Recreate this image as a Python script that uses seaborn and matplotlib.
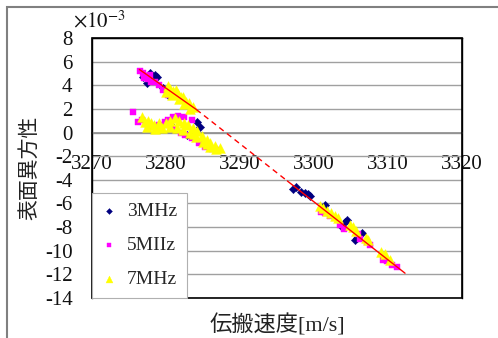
import matplotlib
matplotlib.use("Agg")
import matplotlib.pyplot as plt
import matplotlib.patches as mpatches
import seaborn as sns
import pandas as pd

sns.set_theme(style="white")
plt.rcParams['font.family'] = ['Liberation Serif', 'Noto Sans CJK JP']
plt.rcParams['mathtext.fontset'] = 'stix'
plt.rcParams['axes.unicode_minus'] = False

# values in units of 1e-3
x_3mhz = [3276.9, 3277.4, 3277.8, 3278.0, 3278.5, 3278.8, 3279.6, 3280.3,
          3279.2, 3280.5, 3282.8, 3284.2, 3284.6,
          3297.2, 3297.6, 3298.2, 3298.8, 3299.2, 3299.5, 3301.2, 3301.5,
          3304.5, 3304.2, 3303.8, 3305.8, 3305.5, 3306.5]
y_3mhz = [4.7, 4.2, 5.0, 4.6, 4.9, 4.7, 3.8, 3.2,
          0.5, 0.7, -0.2, 0.85, 0.5,
          -4.8, -4.6, -5.0, -5.1, -5.2, -5.4, -6.3, -6.1,
          -7.4, -7.6, -8.0, -8.9, -9.1, -8.5]

x_5mhz = [3276.5, 3276.9, 3277.2, 3277.6, 3278.0, 3278.5, 3279.0, 3279.6, 3280.3, 3277.8, 3277.0,
          3275.5, 3276.2, 3276.8, 3277.5, 3278.2, 3279.0, 3279.8, 3280.3, 3281.0, 3281.6,
          3282.5, 3283.5, 3282.0, 3282.6, 3283.5, 3284.5, 3285.3, 3286.2, 3287.0, 3281.0,
          3301.0, 3301.5, 3302.2, 3303.5, 3304.0, 3305.9, 3306.2, 3307.6, 3307.2, 3309.3,
          3309.8, 3310.6, 3311.2]
y_5mhz = [5.2, 5.0, 4.8, 4.5, 4.3, 4.3, 4.0, 3.6, 3.2, 4.9, 4.6,
          1.7, 0.9, 1.1, 0.7, 0.5, 0.6, 0.9, 1.1, 1.3, 1.4,
          1.3, 1.1, 0.0, -0.2, -0.5, -0.9, -1.2, -1.4, -1.5, 0.3,
          -6.7, -6.8, -7.1, -7.8, -8.2, -8.6, -9.0, -9.5, -9.3, -10.8,
          -10.9, -11.2, -11.4]

x_7mhz = [3280.3, 3280.6, 3281.0, 3281.3, 3281.6, 3282.0, 3282.3, 3282.7, 3283.1, 3283.6,
          3280.0, 3280.8, 3281.8, 3282.5, 3283.3,
          3276.8, 3277.2, 3277.6, 3278.0, 3278.4, 3278.9, 3279.5, 3277.5, 3278.5, 3280.0,
          3280.6, 3281.2, 3281.8, 3282.4, 3283.0, 3283.6, 3284.2, 3284.9, 3285.5, 3286.0,
          3286.6, 3287.3, 3281.5, 3282.3, 3283.2, 3284.0, 3285.0, 3286.0,
          3279.0, 3280.5, 3283.8, 3285.5, 3286.8,
          3300.8, 3301.2, 3301.8, 3302.3, 3302.8, 3303.3, 3304.8, 3305.3, 3305.7, 3307.0,
          3307.3, 3309.0, 3309.6, 3310.3]
y_7mhz = [3.9, 3.7, 3.5, 3.6, 3.3, 3.0, 3.0, 2.6, 2.5, 2.2,
          3.4, 3.2, 2.8, 2.4, 2.0,
          1.3, 0.9, 1.0, 0.8, 0.6, 0.5, 0.4, 0.5, 0.3, 0.8,
          1.0, 1.2, 1.0, 0.8, 0.6, 0.4, 0.1, -0.3, -0.6, -0.9,
          -1.1, -1.3, 0.4, 0.2, 0.0, -0.4, -0.8, -1.2,
          0.8, 0.5, -0.1, -1.0, -1.4,
          -6.2, -6.4, -6.6, -6.8, -7.1, -7.2, -7.8, -8.0, -8.3, -8.9,
          -9.1, -10.1, -10.3, -10.8]

# trend line (solid where data exists, dashed between)
fit_solid1_x = [3276.4, 3284.1]
fit_solid1_y = [5.34, 1.95]
fit_dash_x = [3284.1, 3296.4]
fit_dash_y = [1.95, -4.1]
fit_solid2_x = [3296.4, 3312.3]
fit_solid2_y = [-4.1, -11.9]

series = ['3MHz', '5MIIz', '7MHz']
colors = ['#000080', '#ff00ff', '#ffff00']
markers = ['D', 's', '^']
msizes = [18, 22, 50]

fig = plt.figure(figsize=(4.98, 3.38), dpi=100)
ax = fig.add_axes([92/498, 1-298/338, 370/498, 260/338])

xs = [x_3mhz, x_5mhz, x_7mhz]
ys = [y_3mhz, y_5mhz, y_7mhz]
for name, xv, yv, c, m, s in zip(series, xs, ys, colors, markers, msizes):
    df = pd.DataFrame({'v': xv, 'a': yv})
    sns.scatterplot(data=df, x='v', y='a', ax=ax, color=c, marker=m, s=s,
                    edgecolor=c, linewidth=0.3, label=name, zorder=3)

ax.plot(fit_solid1_x, fit_solid1_y, color='red', lw=1.0, zorder=4)
ax.plot(fit_dash_x, fit_dash_y, color='red', lw=1.0, ls=(0, (4, 3)), zorder=4)
ax.plot(fit_solid2_x, fit_solid2_y, color='red', lw=1.0, zorder=4)

ax.set_xlim(3270, 3320)
ax.set_ylim(-14, 8)
ax.set_xticks(range(3270, 3321, 10))
ax.set_yticks(range(-14, 9, 2))
ax.yaxis.grid(True, color='#a0a0a0', lw=1)
ax.xaxis.grid(False)
ax.set_axisbelow(True)

ax.spines['bottom'].set_position(('data', 0))
ax.spines['bottom'].set_color('#909090')
for sp in ['top', 'left', 'right']:
    ax.spines[sp].set_color('black')
    ax.spines[sp].set_linewidth(1)
ax.add_patch(mpatches.Rectangle((0, 0), 1, 1, transform=ax.transAxes, fill=False,
                                edgecolor='black', lw=1.2, clip_on=False, zorder=5))

ax.tick_params(axis='x', direction='in', length=4, color='#909090', pad=16,
               labelsize=15, labelcolor='#111111')
ax.tick_params(axis='y', length=0, pad=14, labelsize=15, labelcolor='#111111')
ax.set_xlabel('')
ax.set_ylabel('')

leg = ax.legend(loc='lower left', bbox_to_anchor=(0, 0), borderaxespad=0,
                fontsize=14, frameon=True, fancybox=False, framealpha=1,
                edgecolor='#b0b0b0', handlelength=0.7, handletextpad=0.6,
                labelspacing=0.85, borderpad=0.5, markerscale=0.7)
leg.set_zorder(6)
leg.get_frame().set_linewidth(0.8)

fig.text(30/498, 1-168/338, '表面異方性', rotation=90, ha='center', va='center',
         fontsize=15, color='#222222')
fig.text(277/498, 1-325/338, '伝搬速度[m/s]', ha='center', va='center',
         fontsize=16, color='#222222')
fig.text(73/498, 1-22/338, r'$\times10^{-3}$', ha='left', va='center',
         fontsize=15, color='#111111')

fig.add_artist(mpatches.Rectangle((7/498, -0.1), 1.2, 1.1 - 7/338, transform=fig.transFigure,
                                  fill=False, edgecolor='#808080', lw=1.5))

fig.savefig('out.png', dpi=100)
